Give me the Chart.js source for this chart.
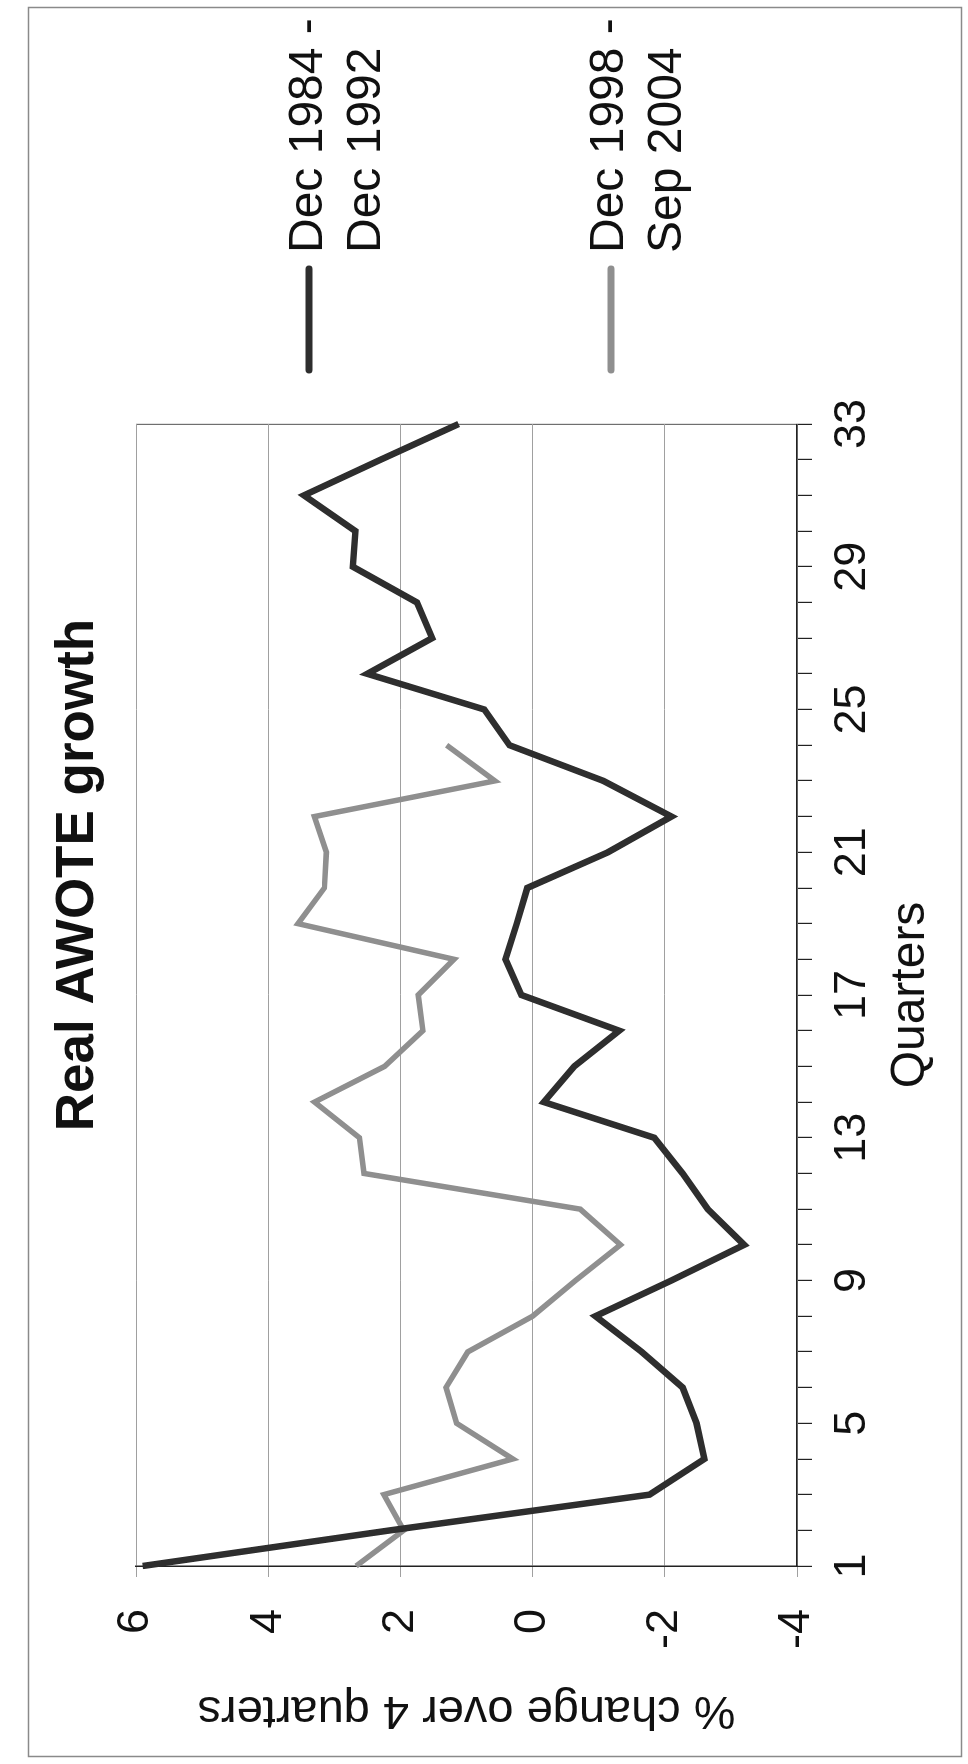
<!DOCTYPE html>
<html>
<head>
<meta charset="utf-8">
<script src="https://cdn.jsdelivr.net/npm/chart.js@4.4.1/dist/chart.umd.min.js"></script>
<style>
  html, body { margin: 0; padding: 0; background: #fff; width: 968px; height: 1764px; overflow: hidden; }
  #wrap { position: absolute; left: 0; top: 0; width: 1764px; height: 968px;
          transform-origin: 0 0; transform: translate(0px, 1764px) rotate(-90deg); }
  canvas { display: block; }
</style>
</head>
<body>
<div id="wrap"><canvas id="c" width="1764" height="968"></canvas></div>
<script>
// ---- data ----
const quarters = ['1','2','3','4','5','6','7','8','9','10','11','12','13','14','15','16','17',
                  '18','19','20','21','22','23','24','25','26','27','28','29','30','31','32','33'];
const xTickLabels = ['1','5','9','13','17','21','25','29','33'];
const yTickValues = [6, 4, 2, 0, -2, -4];

const series1984 = [5.9, 2.15, -1.77, -2.6, -2.48, -2.27, -1.65, -0.95, -2.1, -3.2,
                    -2.65, -2.27, -1.84, -0.17, -0.63, -1.31, 0.17, 0.41, 0.24, 0.08,
                    -1.14, -2.1, -1.07, 0.35, 0.73, 2.5, 1.52, 1.75, 2.72, 2.68,
                    3.46, 2.3, 1.12];
const series1998 = [2.67, 1.95, 2.25, 0.3, 1.15, 1.31, 0.98, 0.0, -0.65, -1.33,
                    -0.72, 2.55, 2.62, 3.3, 2.24, 1.66, 1.73, 1.19, 3.55, 3.15,
                    3.12, 3.3, 0.57, 1.3];
const legend1984 = ['Dec 1984 -', 'Dec 1992'];
const legend1998 = ['Dec 1998 -', 'Sep 2004'];
const chartTitle = 'Real AWOTE growth';
const xTitle = 'Quarters';
const yTitle = '% change over 4 quarters';

// ---- style ----
const FONT = '"Liberation Sans", Arial, Helvetica, sans-serif';
const DARK = '#2e2e2e';
const GREY = '#8f8f8f';
const W = 1764, H = 968;

const framePlugin = {
  id: 'frame',
  beforeDraw(chart) {
    const c = chart.ctx;
    c.save();
    c.fillStyle = '#fff';
    c.fillRect(0, 0, W, H);
    c.strokeStyle = '#8a8a8a';
    c.lineWidth = 1.5;
    c.strokeRect(7.5, 28.5, 1749, 933);
    c.restore();
  }
};

const decoPlugin = {
  id: 'deco',
  afterDraw(chart) {
    const c = chart.ctx;
    c.save();
    // title
    c.fillStyle = '#111';
    c.font = 'bold 53px ' + FONT;
    c.textAlign = 'center';
    c.textBaseline = 'alphabetic';
    c.fillText(chartTitle, 889, 93);
    // legend
    const items = [
      { lines: legend1984, color: chart.data.datasets[0].borderColor, lineY: 309, base: 322 },
      { lines: legend1998, color: chart.data.datasets[1].borderColor, lineY: 611, base: 623 }
    ];
    c.font = '48px ' + FONT;
    c.textAlign = 'left';
    items.forEach(it => {
      c.strokeStyle = it.color;
      c.lineWidth = 7;
      c.lineCap = 'round';
      c.beginPath();
      c.moveTo(1394, it.lineY);
      c.lineTo(1495, it.lineY);
      c.stroke();
      c.fillStyle = '#111';
      it.lines.forEach((t, i) => c.fillText(t, 1511, it.base + i * 58));
    });
    c.restore();
  }
};

new Chart(document.getElementById('c'), {
  type: 'line',
  data: {
    labels: quarters,
    datasets: [
      { label: legend1984.join(' '), data: series1984, borderColor: DARK, borderWidth: 6.5,
        pointRadius: 0, tension: 0, fill: false, borderJoinStyle: 'miter' },
      { label: legend1998.join(' '), data: series1998, borderColor: GREY, borderWidth: 5.5,
        pointRadius: 0, tension: 0, fill: false, borderJoinStyle: 'miter' }
    ]
  },
  options: {
    responsive: false,
    animation: false,
    devicePixelRatio: 1,
    layout: { padding: { left: 20, top: 136, right: 424, bottom: 10 } },
    plugins: { legend: { display: false }, title: { display: false }, tooltip: { enabled: false } },
    scales: {
      x: {
        type: 'category',
        offset: false,
        grid: {
          drawOnChartArea: true,
          color: (ctx) => ctx.index === quarters.length - 1 ? '#6f6f6f' : 'rgba(0,0,0,0)',
          tickColor: '#222',
          tickLength: 15,
          lineWidth: 1.2
        },
        border: { display: true, color: '#222', width: 1.5 },
        ticks: {
          autoSkip: false, maxRotation: 0, minRotation: 0, padding: 14,
          color: '#111', font: { family: FONT, size: 45 },
          callback: function (v) { const l = this.getLabelForValue(v); return xTickLabels.includes(l) ? l : ''; }
        },
        title: { display: true, text: xTitle, color: '#111', font: { family: FONT, size: 48 },
                 padding: { top: 0, bottom: 18 } },
        afterFit(s) { s.height = H - 797 - 10; }
      },
      y: {
        min: -4, max: 6,
        afterBuildTicks(s) { s.ticks = yTickValues.map(v => ({ value: v })); },
        grid: { color: '#a0a0a0', tickColor: '#a0a0a0', tickLength: 11, lineWidth: 1 },
        border: { display: true, color: '#222', width: 1.5 },
        ticks: { padding: 32, color: '#111', font: { family: FONT, size: 45 } },
        title: { display: true, text: yTitle, color: '#111', font: { family: FONT, size: 47 },
                 padding: { top: 6, bottom: 0 } },
        afterFit(s) { s.width = 198 - 20; }
      }
    }
  },
  plugins: [framePlugin, decoPlugin]
});
</script>
</body>
</html>
